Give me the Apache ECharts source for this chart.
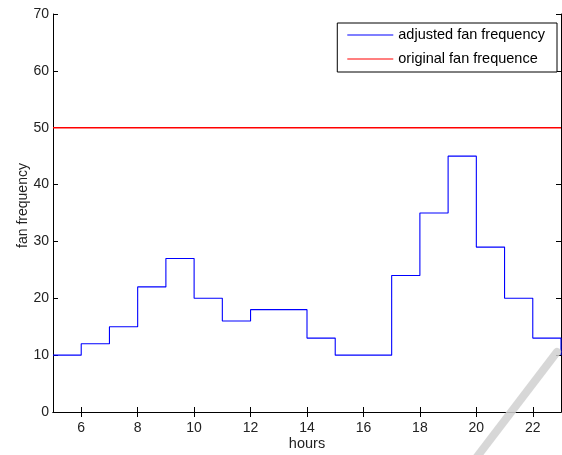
<!DOCTYPE html>
<html>
<head>
<meta charset="utf-8">
<script src="https://cdn.jsdelivr.net/npm/echarts@6/dist/echarts.min.js"></script>
<style>
  html, body { margin: 0; padding: 0; background: #fff; }
  #chart { width: 562px; height: 455px; }
</style>
</head>
<body>
<div id="chart"></div>
<script>
// Hourly fan frequency (stairs: each value holds until the next hour)
const hours = [5, 6, 7, 8, 9, 10, 11, 12, 13, 14, 15, 16, 17, 18, 19, 20, 21, 22, 23];
const adjustedFreq = [10, 12, 15, 22, 27, 20, 16, 18, 18, 13, 10, 10, 24, 35, 45, 29, 20, 13, 10];
const originalFreq = [50, 50];
const originalHours = [5, 23];
const xTicks = [6, 8, 10, 12, 14, 16, 18, 20, 22];
const yTicks = [0, 10, 20, 30, 40, 50, 60, 70];

const font = 'Liberation Sans, Arial, sans-serif';
const ink = '#222';
const blue = '#0000ff';
const red = '#ff0000';

const chart = echarts.init(document.getElementById('chart'), null, { renderer: 'canvas' });

const tickStyle = { show: true, inside: true, length: 5, lineStyle: { color: '#000' } };
const axisCommon = {
  axisLine: { show: true, lineStyle: { color: '#000', width: 1 } },
  axisTick: tickStyle,
  splitLine: { show: false },
  axisLabel: { color: ink, fontFamily: font, fontSize: 14 }
};

const legendEntry = (name, c) => ({
  name,
  icon: 'rect',
  itemStyle: { color: c, borderColor: c, borderWidth: 0 },
  lineStyle: { color: c, width: 1 }
});

chart.setOption({
  animation: false,
  backgroundColor: '#fff',
  grid: { left: 53, right: 1, top: 14, bottom: 43, containLabel: false, outerBoundsMode: 'none' },
  legend: {
    orient: 'vertical',
    right: 5,
    top: 23,
    padding: [4, 12, 5, 10],
    itemGap: 8,
    itemWidth: 46,
    itemHeight: 1,
    borderColor: '#000',
    borderWidth: 1,
    backgroundColor: '#fff',
    textStyle: { color: '#000', fontFamily: font, fontSize: 14.5, lineHeight: 16 },
    data: [legendEntry('adjusted fan frequency', blue), legendEntry('original fan frequence', red)]
  },
  xAxis: [
    Object.assign({}, axisCommon, {
      type: 'value', min: 5, max: 23, interval: 1,
      name: 'hours', nameLocation: 'middle', nameGap: 24, nameMoveOverlap: false,
      nameTextStyle: { color: ink, fontFamily: font, fontSize: 14.5 },
      axisLabel: Object.assign({}, axisCommon.axisLabel, {
        margin: 9,
        formatter: v => (xTicks.includes(v) ? String(v) : '')
      }),
      axisTick: Object.assign({}, tickStyle, { customValues: xTicks })
    }),
    Object.assign({}, axisCommon, {
      type: 'value', min: 5, max: 23, position: 'top',
      axisLabel: { show: false },
      axisTick: Object.assign({}, tickStyle, { customValues: xTicks })
    })
  ],
  yAxis: [
    Object.assign({}, axisCommon, {
      type: 'value', min: 0, max: 70, interval: 10,
      name: 'fan frequency', nameLocation: 'middle', nameGap: 23, nameMoveOverlap: false,
      nameTextStyle: { color: ink, fontFamily: font, fontSize: 14, padding: [0, 0, 0, 15] },
      axisLabel: Object.assign({}, axisCommon.axisLabel, {
        margin: 4,
        formatter: v => (yTicks.includes(v) ? String(v) : '')
      })
    }),
    Object.assign({}, axisCommon, {
      type: 'value', min: 0, max: 70, interval: 10, position: 'right',
      axisLabel: { show: false }
    })
  ],
  series: [
    {
      name: 'adjusted fan frequency',
      type: 'line',
      step: 'end',
      showSymbol: false,
      symbol: 'none',
      itemStyle: { color: blue },
      lineStyle: { color: blue, width: 1.1 },
      data: hours.map((h, i) => [h, adjustedFreq[i]]),
      z: 3
    },
    {
      name: 'original fan frequence',
      type: 'line',
      showSymbol: false,
      symbol: 'none',
      itemStyle: { color: red },
      lineStyle: { color: red, width: 1.5 },
      data: originalHours.map((h, i) => [h, originalFreq[i]]),
      z: 4
    }
  ],
  graphic: [
    {
      type: 'line',
      z: 100,
      shape: { x1: 557, y1: 352, x2: 470, y2: 466 },
      style: { stroke: '#d0d0d0', lineWidth: 8, lineCap: 'round', opacity: 0.85 }
    }
  ]
});
</script>
</body>
</html>
